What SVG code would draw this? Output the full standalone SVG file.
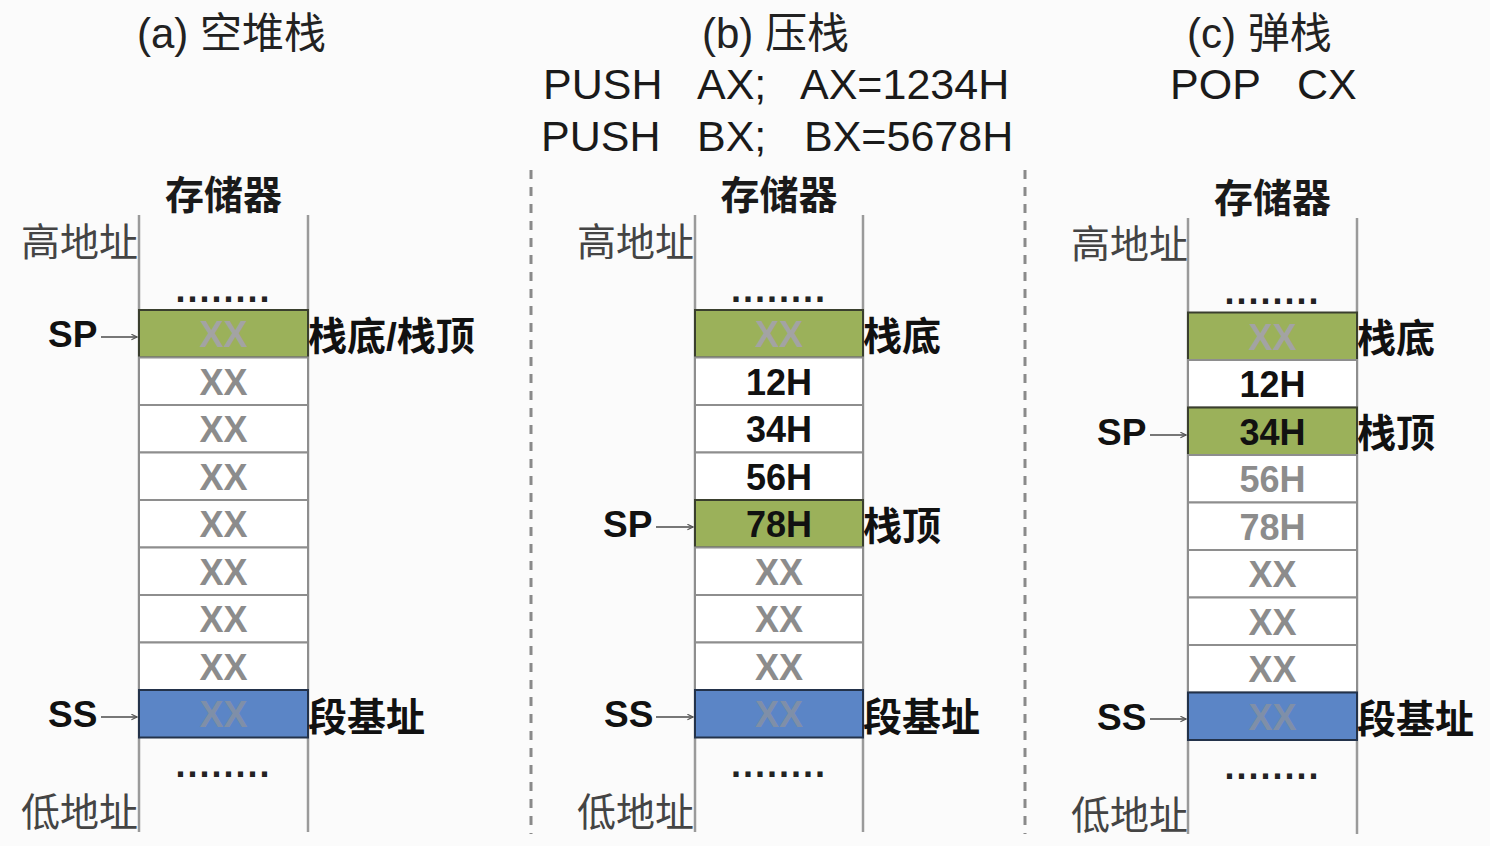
<svg xmlns="http://www.w3.org/2000/svg" width="1490" height="846" viewBox="0 0 1490 846">
<defs>
<style>
text{font-family:"Liberation Sans","Noto Sans CJK SC",sans-serif}
.title{font-size:42px;fill:#222}
.cmd{font-size:43px;fill:#1a1a1a}
.mem{font-size:39px;font-weight:bold;fill:#1a1a1a;text-anchor:middle}
.addr{font-size:39px;fill:#444}
.dots{font-size:36px;font-weight:bold;fill:#222;text-anchor:middle;letter-spacing:2px}
.cv{font-size:36px;font-weight:bold;text-anchor:middle}
.xx{fill:#8c8c8c}
.xg{fill:#a3a3a3}
.xb{fill:#7f8fa8}
.val{fill:#111}
.fade{fill:#8c8c8c}
.ptr{font-size:37px;font-weight:bold;fill:#111}
.lbl{font-size:39px;font-weight:bold;fill:#111}
.col{stroke:#9a9a9a;stroke-width:2.5;fill:none}
.cellw{fill:#ffffff;stroke:#8e8e8e;stroke-width:2}
.cellg{fill:#9bb15a;stroke:#3a3f2e;stroke-width:2}
.cellb{fill:#5b85c6;stroke:#23324a;stroke-width:2}
.arr{stroke:#777;stroke-width:2;fill:none}
.sep{stroke:#8a8a8a;stroke-width:3;stroke-dasharray:9 8;fill:none}
</style>
<marker id="ah" viewBox="0 0 10 10" refX="9" refY="5" markerWidth="7" markerHeight="7" orient="auto" markerUnits="userSpaceOnUse">
<path d="M1,1 L9,5 L1,9" fill="none" stroke="#555" stroke-width="1.6"/>
</marker>
</defs>
<rect width="1490" height="846" fill="#fbfbfb"/>

<g id="separators">
<line class="sep" x1="531" y1="170" x2="531" y2="834"/>
<line class="sep" x1="1025" y1="170" x2="1025" y2="834"/>
</g>

<!-- Panel A -->
<g id="panel-a">
<text class="title" x="137" y="48">(a) 空堆栈</text>
<text class="mem" x="223.5" y="209">存储器</text>
<text class="addr" x="21" y="256">高地址</text>
<text class="addr" x="21" y="826">低地址</text>
<line class="col" x1="139" y1="215" x2="139" y2="832"/>
<line class="col" x1="308" y1="215" x2="308" y2="832"/>
<text class="dots" x="223.5" y="302">........</text>
<text class="dots" x="223.5" y="777">........</text>
</g>
<g id="a-cells">
<g id="a-c0"><rect class="cellg" x="139" y="310" width="169" height="47.5"/><text class="cv xg" x="223.5" y="347">XX</text></g>
<g id="a-c1"><rect class="cellw" x="139" y="357.5" width="169" height="47.5"/><text class="cv xx" x="223.5" y="394.5">XX</text></g>
<g id="a-c2"><rect class="cellw" x="139" y="405" width="169" height="47.5"/><text class="cv xx" x="223.5" y="442">XX</text></g>
<g id="a-c3"><rect class="cellw" x="139" y="452.5" width="169" height="47.5"/><text class="cv xx" x="223.5" y="489.5">XX</text></g>
<g id="a-c4"><rect class="cellw" x="139" y="500" width="169" height="47.5"/><text class="cv xx" x="223.5" y="537">XX</text></g>
<g id="a-c5"><rect class="cellw" x="139" y="547.5" width="169" height="47.5"/><text class="cv xx" x="223.5" y="584.5">XX</text></g>
<g id="a-c6"><rect class="cellw" x="139" y="595" width="169" height="47.5"/><text class="cv xx" x="223.5" y="632">XX</text></g>
<g id="a-c7"><rect class="cellw" x="139" y="642.5" width="169" height="47.5"/><text class="cv xx" x="223.5" y="679.5">XX</text></g>
<g id="a-c8"><rect class="cellb" x="139" y="690" width="169" height="47.5"/><text class="cv xb" x="223.5" y="727">XX</text></g>
</g>
<g id="a-labels">
<text class="ptr" x="48" y="347">SP</text>
<text class="lbl" x="308" y="350">栈底/栈顶</text>
<text class="ptr" x="48" y="727">SS</text>
<text class="lbl" x="308" y="731">段基址</text>
</g>

<!-- Panel B -->
<g id="panel-b">
<text class="title" x="702" y="48">(b) 压栈</text>
<text class="cmd" x="543" y="99">PUSH<tspan x="697">AX;</tspan><tspan x="800">AX=1234H</tspan></text>
<text class="cmd" x="541" y="151">PUSH<tspan x="697">BX;</tspan><tspan x="804">BX=5678H</tspan></text>
<text class="mem" x="779" y="209">存储器</text>
<text class="addr" x="577" y="256">高地址</text>
<text class="addr" x="577" y="826">低地址</text>
<line class="col" x1="695" y1="215" x2="695" y2="832"/>
<line class="col" x1="863" y1="215" x2="863" y2="832"/>
<text class="dots" x="779" y="302">........</text>
<text class="dots" x="779" y="777">........</text>
</g>
<g id="b-cells">
<g id="b-c0"><rect class="cellg" x="695" y="310" width="168" height="47.5"/><text class="cv xg" x="779" y="347">XX</text></g>
<g id="b-c1"><rect class="cellw" x="695" y="357.5" width="168" height="47.5"/><text class="cv val" x="779" y="394.5">12H</text></g>
<g id="b-c2"><rect class="cellw" x="695" y="405" width="168" height="47.5"/><text class="cv val" x="779" y="442">34H</text></g>
<g id="b-c3"><rect class="cellw" x="695" y="452.5" width="168" height="47.5"/><text class="cv val" x="779" y="489.5">56H</text></g>
<g id="b-c4"><rect class="cellg" x="695" y="500" width="168" height="47.5"/><text class="cv val" x="779" y="537">78H</text></g>
<g id="b-c5"><rect class="cellw" x="695" y="547.5" width="168" height="47.5"/><text class="cv xx" x="779" y="584.5">XX</text></g>
<g id="b-c6"><rect class="cellw" x="695" y="595" width="168" height="47.5"/><text class="cv xx" x="779" y="632">XX</text></g>
<g id="b-c7"><rect class="cellw" x="695" y="642.5" width="168" height="47.5"/><text class="cv xx" x="779" y="679.5">XX</text></g>
<g id="b-c8"><rect class="cellb" x="695" y="690" width="168" height="47.5"/><text class="cv xb" x="779" y="727">XX</text></g>
</g>
<g id="b-labels">
<text class="lbl" x="863" y="350">栈底</text>
<text class="ptr" x="603" y="537">SP</text>
<text class="lbl" x="863" y="540">栈顶</text>
<text class="ptr" x="604" y="727">SS</text>
<text class="lbl" x="863" y="731">段基址</text>
</g>

<!-- Panel C -->
<g id="panel-c">
<text class="title" x="1187" y="48">(c) 弹栈</text>
<text class="cmd" x="1170" y="99">POP<tspan x="1297">CX</tspan></text>
<text class="mem" x="1272.5" y="212">存储器</text>
<text class="addr" x="1071" y="258">高地址</text>
<text class="addr" x="1071" y="829">低地址</text>
<line class="col" x1="1188" y1="218" x2="1188" y2="834"/>
<line class="col" x1="1357" y1="218" x2="1357" y2="834"/>
<text class="dots" x="1272.5" y="304">........</text>
<text class="dots" x="1272.5" y="779">........</text>
</g>
<g id="c-cells">
<g id="c-c0"><rect class="cellg" x="1188" y="312.5" width="169" height="47.5"/><text class="cv xg" x="1272.5" y="349.5">XX</text></g>
<g id="c-c1"><rect class="cellw" x="1188" y="360" width="169" height="47.5"/><text class="cv val" x="1272.5" y="397">12H</text></g>
<g id="c-c2"><rect class="cellg" x="1188" y="407.5" width="169" height="47.5"/><text class="cv val" x="1272.5" y="444.5">34H</text></g>
<g id="c-c3"><rect class="cellw" x="1188" y="455" width="169" height="47.5"/><text class="cv fade" x="1272.5" y="492">56H</text></g>
<g id="c-c4"><rect class="cellw" x="1188" y="502.5" width="169" height="47.5"/><text class="cv fade" x="1272.5" y="539.5">78H</text></g>
<g id="c-c5"><rect class="cellw" x="1188" y="550" width="169" height="47.5"/><text class="cv xx" x="1272.5" y="587">XX</text></g>
<g id="c-c6"><rect class="cellw" x="1188" y="597.5" width="169" height="47.5"/><text class="cv xx" x="1272.5" y="634.5">XX</text></g>
<g id="c-c7"><rect class="cellw" x="1188" y="645" width="169" height="47.5"/><text class="cv xx" x="1272.5" y="682">XX</text></g>
<g id="c-c8"><rect class="cellb" x="1188" y="692.5" width="169" height="47.5"/><text class="cv xb" x="1272.5" y="729.5">XX</text></g>
</g>
<g id="c-labels">
<text class="lbl" x="1357" y="352">栈底</text>
<text class="ptr" x="1097" y="444.5">SP</text>
<text class="lbl" x="1357" y="447">栈顶</text>
<text class="ptr" x="1097" y="729.5">SS</text>
<text class="lbl" x="1357" y="733">段基址</text>
</g>

<g id="connectors">
<line class="arr" x1="101" y1="337" x2="137" y2="337" marker-end="url(#ah)"/>
<line class="arr" x1="101" y1="717" x2="137" y2="717" marker-end="url(#ah)"/>
<line class="arr" x1="656" y1="527" x2="693" y2="527" marker-end="url(#ah)"/>
<line class="arr" x1="656" y1="717" x2="693" y2="717" marker-end="url(#ah)"/>
<line class="arr" x1="1150" y1="435" x2="1186" y2="435" marker-end="url(#ah)"/>
<line class="arr" x1="1150" y1="719" x2="1186" y2="719" marker-end="url(#ah)"/>
</g>
</svg>
